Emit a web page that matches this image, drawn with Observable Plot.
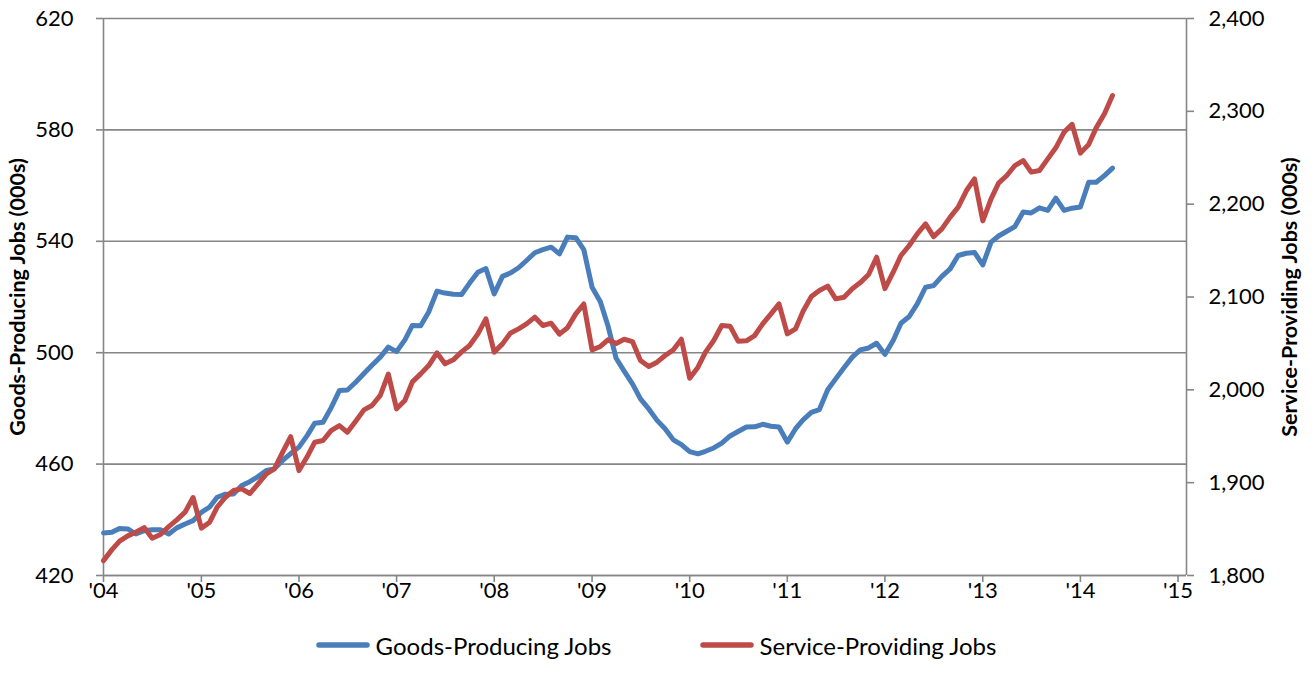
<!DOCTYPE html>
<html>
<head>
<meta charset="utf-8">
<script src="https://cdn.jsdelivr.net/npm/d3@7"></script>
<script src="https://cdn.jsdelivr.net/npm/@observablehq/plot@0.6"></script>
<style>
  html, body { margin: 0; padding: 0; background: #fff; }
  body { width: 1312px; height: 690px; overflow: hidden; font-family: Lato, "Open Sans", sans-serif; }
  #legend { height: 70px; display: flex; justify-content: center; align-items: center; font-size: 24px; color: #000; margin-top: -10px; }
  .item { display: flex; align-items: center; }
  .item svg { margin-right: 6px; }
  .item + .item { margin-left: 88px; }
</style>
</head>
<body>
<div id="chart"></div>
<div id="legend"></div>
<script>
// ---- data (monthly, Jan 2004 - May 2014) ----
const startYear = 2004;
const goods = [
  435.3, 435.5, 436.9, 436.7, 434.9, 436.1, 436.4, 436.4, 434.9, 437.1, 438.5, 439.7,
  442.7, 444.6, 448.1, 449.2, 449.3, 452.3, 453.7, 455.5, 457.7, 458.3, 461.3, 463.8,
  466.1, 470.3, 474.7, 475.0, 480.2, 486.4, 486.6, 489.4, 492.5, 495.5, 498.4, 502.0,
  500.4, 504.6, 509.8, 509.7, 514.6, 522.1, 521.4, 521.0, 520.9, 525.0, 528.9, 530.2,
  521.1, 527.4, 528.6, 530.5, 533.1, 535.9, 537.0, 537.9, 535.5, 541.5, 541.3, 537.0,
  523.5, 518.3, 509.8, 498.0, 493.4, 488.8, 483.4, 479.8, 475.7, 472.7, 468.7, 467.0,
  464.5, 463.7, 464.6, 465.8, 467.5, 470.1, 471.7, 473.3, 473.4, 474.3, 473.6, 473.3,
  467.9, 472.7, 475.9, 478.6, 479.6, 486.7, 490.6, 494.6, 498.4, 501.0, 501.7, 503.4,
  499.4, 504.4, 510.6, 513.0, 517.5, 523.5, 524.1, 527.4, 530.1, 534.9, 535.7, 536.0,
  531.5, 539.7, 541.9, 543.6, 545.3, 550.5, 550.2, 552.0, 551.1, 555.5, 551.1, 551.9,
  552.3, 561.2, 561.2, 563.6, 566.3
];
const services = [
  1816.0, 1827.6, 1837.0, 1842.7, 1846.6, 1851.6, 1840.2, 1844.1, 1852.7, 1859.9, 1868.2, 1884.0,
  1851.0, 1857.4, 1873.6, 1884.3, 1891.5, 1893.3, 1888.3, 1898.7, 1909.5, 1914.8, 1932.8, 1949.5,
  1913.0, 1928.1, 1943.6, 1945.4, 1956.1, 1961.5, 1954.3, 1966.2, 1978.4, 1983.1, 1994.0, 2017.0,
  1979.5, 1988.5, 2008.6, 2017.2, 2026.2, 2039.8, 2028.0, 2032.3, 2040.9, 2047.7, 2060.3, 2076.5,
  2040.6, 2049.5, 2061.0, 2065.7, 2071.1, 2078.3, 2069.3, 2071.8, 2060.0, 2066.8, 2081.8, 2092.5,
  2043.0, 2046.7, 2053.8, 2050.0, 2054.5, 2052.0, 2031.6, 2025.1, 2029.8, 2037.0, 2043.1, 2054.5,
  2012.5, 2024.4, 2040.6, 2053.1, 2069.3, 2068.6, 2052.4, 2052.8, 2058.5, 2071.1, 2081.9, 2092.6,
  2060.3, 2065.7, 2084.7, 2100.5, 2107.0, 2111.7, 2098.0, 2099.8, 2109.0, 2115.5, 2124.2, 2142.9,
  2109.0, 2126.7, 2144.7, 2155.5, 2168.0, 2178.8, 2165.0, 2173.4, 2186.0, 2196.8, 2214.7, 2227.3,
  2182.0, 2205.7, 2222.6, 2230.9, 2241.6, 2247.0, 2234.5, 2236.3, 2248.8, 2260.7, 2277.6, 2286.0,
  2255.0, 2264.3, 2282.2, 2297.3, 2317.0
];
const tickYears = [2004, 2005, 2006, 2007, 2008, 2009, 2010, 2011, 2012, 2013, 2014, 2015];
const xTickLabels = ["'04", "'05", "'06", "'07", "'08", "'09", "'10", "'11", "'12", "'13", "'14", "'15"];
const leftTicks = [420, 460, 500, 540, 580, 620];
const rightTicks = [1800, 1900, 2000, 2100, 2200, 2300, 2400];
const seriesNames = ["Goods-Producing Jobs", "Service-Providing Jobs"];
const seriesColors = ["#4A7EBB", "#BE4B48"];
const leftTitle = "Goods-Producing Jobs (000s)";
const rightTitle = "Service-Providing Jobs (000s)";

// ---- build ----
const rows = goods.map((g, i) => ({
  date: new Date(Date.UTC(startYear, i, 1)),
  goods: g,
  services: services[i]
}));
// map right-axis values onto left-axis scale
const toLeft = s => 420 + (s - 1800) / 3;
const fromLeft = v => 1800 + (v - 420) * 3;

const W = 1312, H = 620;
const mL = 103, mR = 126, mT = 18, mB = 45;
const t0 = Date.UTC(2004, 0, 1), t1 = Date.UTC(2015, 0, 1);
const tickSpanPx = 1075; // '04 -> '15
const msPerPx = (t1 - t0) / tickSpanPx;
const xDomain = [new Date(t0), new Date(t1 + 8.5 * msPerPx)];
const tickDates = tickYears.map(y => new Date(Date.UTC(y, 0, 1)));
const gray = "#868686";

const chart = Plot.plot({
  width: W,
  height: H,
  marginLeft: mL,
  marginRight: mR,
  marginTop: mT,
  marginBottom: mB,
  style: { fontFamily: "Lato, 'Open Sans', sans-serif", fontSize: "22px", color: "#000", background: "#fff", overflow: "visible" },
  x: { type: "utc", domain: xDomain },
  y: { domain: [420, 620] },
  marks: [
    Plot.gridY(leftTicks, { stroke: gray, strokeOpacity: 1, strokeWidth: 1.6 }),
    Plot.ruleX([xDomain[0], xDomain[1]], { stroke: gray, strokeWidth: 1.6 }),
    Plot.ruleY([420], { stroke: gray, strokeWidth: 1.6 }),
    Plot.axisY({
      anchor: "left", ticks: leftTicks, tickSize: 7, tickPadding: 23,
      stroke: gray, strokeWidth: 1.6, label: null, fontSize: 22
    }),
    Plot.axisY({
      anchor: "right", ticks: rightTicks.map(toLeft), tickSize: 7, tickPadding: 15,
      tickFormat: v => d3.format(",")(Math.round(fromLeft(v))),
      stroke: gray, strokeWidth: 1.6, label: null, fontSize: 22
    }),
    Plot.axisX({
      ticks: tickDates, tickSize: 7, tickPadding: 0,
      tickFormat: d => xTickLabels[tickYears.indexOf(d.getUTCFullYear())],
      stroke: gray, strokeWidth: 1.6, label: null, fontSize: 22
    }),
    Plot.lineY(rows, { x: "date", y: "goods", stroke: seriesColors[0], strokeWidth: 5, strokeLinejoin: "round", strokeLinecap: "round" }),
    Plot.lineY(rows, { x: "date", y: d => toLeft(d.services), stroke: seriesColors[1], strokeWidth: 5, strokeLinejoin: "round", strokeLinecap: "round" }),
    Plot.text([leftTitle], { frameAnchor: "left", dx: -85, rotate: -90, textAnchor: "middle", fontWeight: "bold", fontSize: 21.5, fill: "#000" }),
    Plot.text([rightTitle], { frameAnchor: "right", dx: 104, rotate: -90, textAnchor: "middle", fontWeight: "bold", fontSize: 21.5, fill: "#000" })
  ]
});
document.getElementById("chart").appendChild(chart);

// ---- legend ----
const legend = d3.select("#legend");
seriesNames.forEach((name, i) => {
  const item = legend.append("div").attr("class", "item");
  const s = item.append("svg").attr("width", 54).attr("height", 12);
  s.append("line").attr("x1", 3).attr("x2", 51).attr("y1", 6).attr("y2", 6)
    .attr("stroke", seriesColors[i]).attr("stroke-width", 5.5).attr("stroke-linecap", "round");
  item.append("span").text(name);
});
</script>
</body>
</html>
